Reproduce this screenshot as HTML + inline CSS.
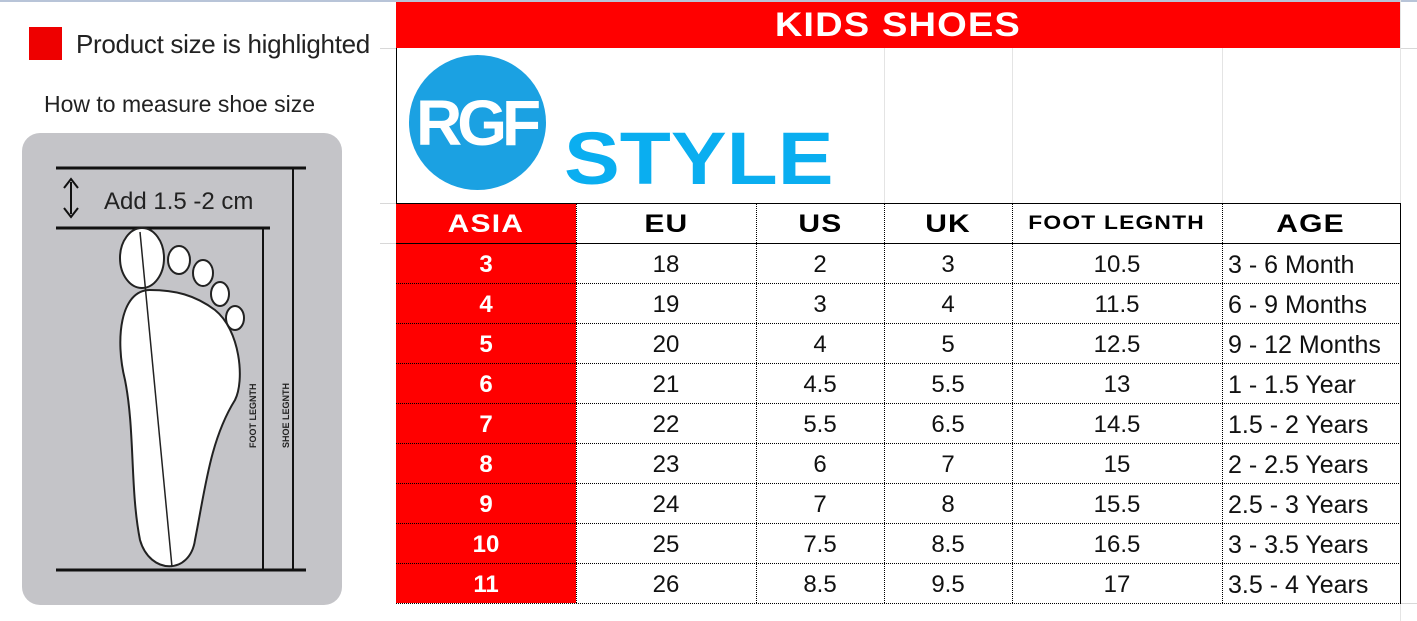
<!DOCTYPE html>
<html><head><meta charset="utf-8"><style>
body{margin:0;width:1417px;height:621px;background:#fff;position:relative;overflow:hidden;font-family:"Liberation Sans",sans-serif}
.a{position:absolute}
.c{position:absolute;display:flex;align-items:center;justify-content:center;font-size:24px;color:#111}
.h{font-weight:bold;font-size:25px;transform:scaleX(1.15);letter-spacing:1px}
</style></head><body>
<div class="a" style="left:0;top:0;width:1417px;height:2px;background:#b8c4d8"></div>
<div class="a" style="left:1400px;top:48px;width:17px;height:1px;background:#d8d8d8"></div>
<div class="a" style="left:1400px;top:603px;width:17px;height:1px;background:#d8d8d8"></div>
<div class="a" style="left:380px;top:48px;width:16px;height:1px;background:#d8d8d8"></div>
<div class="a" style="left:380px;top:203px;width:16px;height:1px;background:#d8d8d8"></div>
<div class="a" style="left:380px;top:243px;width:16px;height:1px;background:#d8d8d8"></div>
<div class="a" style="left:29px;top:27px;width:33px;height:33px;background:#e00"></div>
<div class="a" style="left:76px;top:29px;font-size:26px;color:#222;letter-spacing:-0.3px">Product size is highlighted</div>
<div class="a" style="left:44px;top:91px;font-size:23px;color:#222">How to measure shoe size</div>
<div class="a" style="left:22px;top:133px;width:320px;height:472px;background:#c4c4c8;border-radius:18px"></div>
<svg class="a" style="left:0;top:0" width="380" height="621">
<g stroke="#111" stroke-width="3" fill="none">
<line x1="56" y1="168" x2="306" y2="168"/><line x1="56" y1="228" x2="270" y2="228"/>
<line x1="56" y1="570" x2="306" y2="570"/>
<line x1="293" y1="168" x2="293" y2="570" stroke-width="2"/><line x1="263" y1="228" x2="263" y2="570" stroke-width="2"/>
<line x1="71" y1="182" x2="71" y2="214" stroke-width="2"/>
</g>
<path d="M64 188 L71 179 L78 188 M64 208 L71 217 L78 208" stroke="#111" stroke-width="2" fill="none"/>
<g fill="#fff" stroke="#222" stroke-width="2">
<path d="M150 290 C120 290 115 340 125 380 C135 430 130 490 140 540 C150 575 190 575 195 540 C205 490 210 440 235 400 C245 380 240 330 215 310 C195 295 175 290 150 290Z"/>
<ellipse cx="142" cy="258" rx="22" ry="30"/>
<ellipse cx="179" cy="260" rx="11" ry="14"/><ellipse cx="203" cy="273" rx="10" ry="13"/>
<ellipse cx="220" cy="294" rx="9" ry="12"/><ellipse cx="235" cy="318" rx="9" ry="12"/>
</g>
<line x1="140" y1="232" x2="172" y2="567" stroke="#222" stroke-width="1.5"/>
<text x="104" y="209" font-size="24" fill="#222" font-family="Liberation Sans">Add 1.5 -2 cm</text>
<text transform="translate(256,448) rotate(-90)" font-size="9" font-weight="bold" fill="#222" font-family="Liberation Sans">FOOT LEGNTH</text>
<text transform="translate(289,448) rotate(-90)" font-size="9" font-weight="bold" fill="#222" font-family="Liberation Sans">SHOE LEGNTH</text>
</svg>
<div class="a" style="left:396px;top:2px;width:1004px;height:46px;background:#f00"></div>
<div class="c" style="left:396px;top:2px;width:1004px;height:46px;color:#fff;font-size:34px;font-weight:bold"><span style="display:inline-block;transform:scaleX(1.12);letter-spacing:1px">KIDS SHOES</span></div>
<div class="a" style="left:396px;top:48px;width:1px;height:556px;background:#000"></div>
<div class="a" style="left:884px;top:48px;width:1px;height:155px;background:#e4e4e4"></div>
<div class="a" style="left:1012px;top:48px;width:1px;height:155px;background:#e4e4e4"></div>
<div class="a" style="left:1222px;top:48px;width:1px;height:155px;background:#e4e4e4"></div>
<div class="a" style="left:1400px;top:0;width:1px;height:621px;background:#e4e4e4"></div>
<div class="a" style="left:409px;top:55px;width:137px;height:135px;border-radius:50%;background:#1ba1e2"></div>
<div class="a" style="left:416px;top:86px;font-size:64px;font-weight:bold;color:#fff;letter-spacing:-5px">RGF</div>
<div class="a" style="left:564px;top:116px;font-size:74px;font-weight:bold;color:#0aaef0;transform:scaleX(1.13);transform-origin:left">STYLE</div>
<div class="a" style="left:396px;top:203px;width:180px;height:400px;background:#f00"></div>
<div id="t"></div>
<script>
var xs=[396,576,756,884,1012,1222,1400];
var hd=["ASIA","EU","US","UK","FOOT LEGNTH","AGE"];
var rows=[["3","18","2","3","10.5","3 - 6 Month"],["4","19","3","4","11.5","6 - 9 Months"],["5","20","4","5","12.5","9 - 12 Months"],["6","21","4.5","5.5","13","1 - 1.5 Year"],["7","22","5.5","6.5","14.5","1.5 - 2 Years"],["8","23","6","7","15","2 - 2.5 Years"],["9","24","7","8","15.5","2.5 - 3 Years"],["10","25","7.5","8.5","16.5","3 - 3.5 Years"],["11","26","8.5","9.5","17","3.5 - 4 Years"]];
var h="";
h+='<div class="a" style="left:396px;top:203px;width:1005px;height:1px;background:#000"></div>';
h+='<div class="a" style="left:396px;top:243px;width:1005px;height:1px;background:#000"></div>';
for(var r=1;r<=9;r++){var y=243+r*40;h+='<div class="a" style="left:396px;top:'+y+'px;width:1005px;height:0;border-top:1px dotted #000"></div>';}
for(var i=1;i<6;i++)h+='<div class="a" style="left:'+xs[i]+'px;top:203px;width:0;height:400px;border-left:1px dotted #000"></div>';
h+='<div class="a" style="left:1400px;top:203px;width:1px;height:400px;background:#000"></div>';
for(var i=0;i<6;i++){var fs=i==4?19:25;h+='<div class="c h" style="left:'+xs[i]+'px;top:203px;width:'+(xs[i+1]-xs[i])+'px;height:42px;font-size:'+fs+'px;transform:none;color:'+(i==0?'#fff':'#000')+'"><span style="display:inline-block;transform:scaleX(1.2)">'+hd[i]+'</span></div>';}
for(var r=0;r<9;r++){var y=245+r*40;for(var i=0;i<6;i++){var st='left:'+xs[i]+'px;top:'+y+'px;width:'+(xs[i+1]-xs[i])+'px;height:40px;';if(i==0)st+='color:#fff;font-weight:bold;';if(i==5)st+='justify-content:flex-start;padding-left:6px;box-sizing:border-box;font-size:25px;';h+='<div class="c" style="'+st+'">'+rows[r][i]+'</div>';}}
document.getElementById('t').innerHTML=h;
</script>
</body></html>
